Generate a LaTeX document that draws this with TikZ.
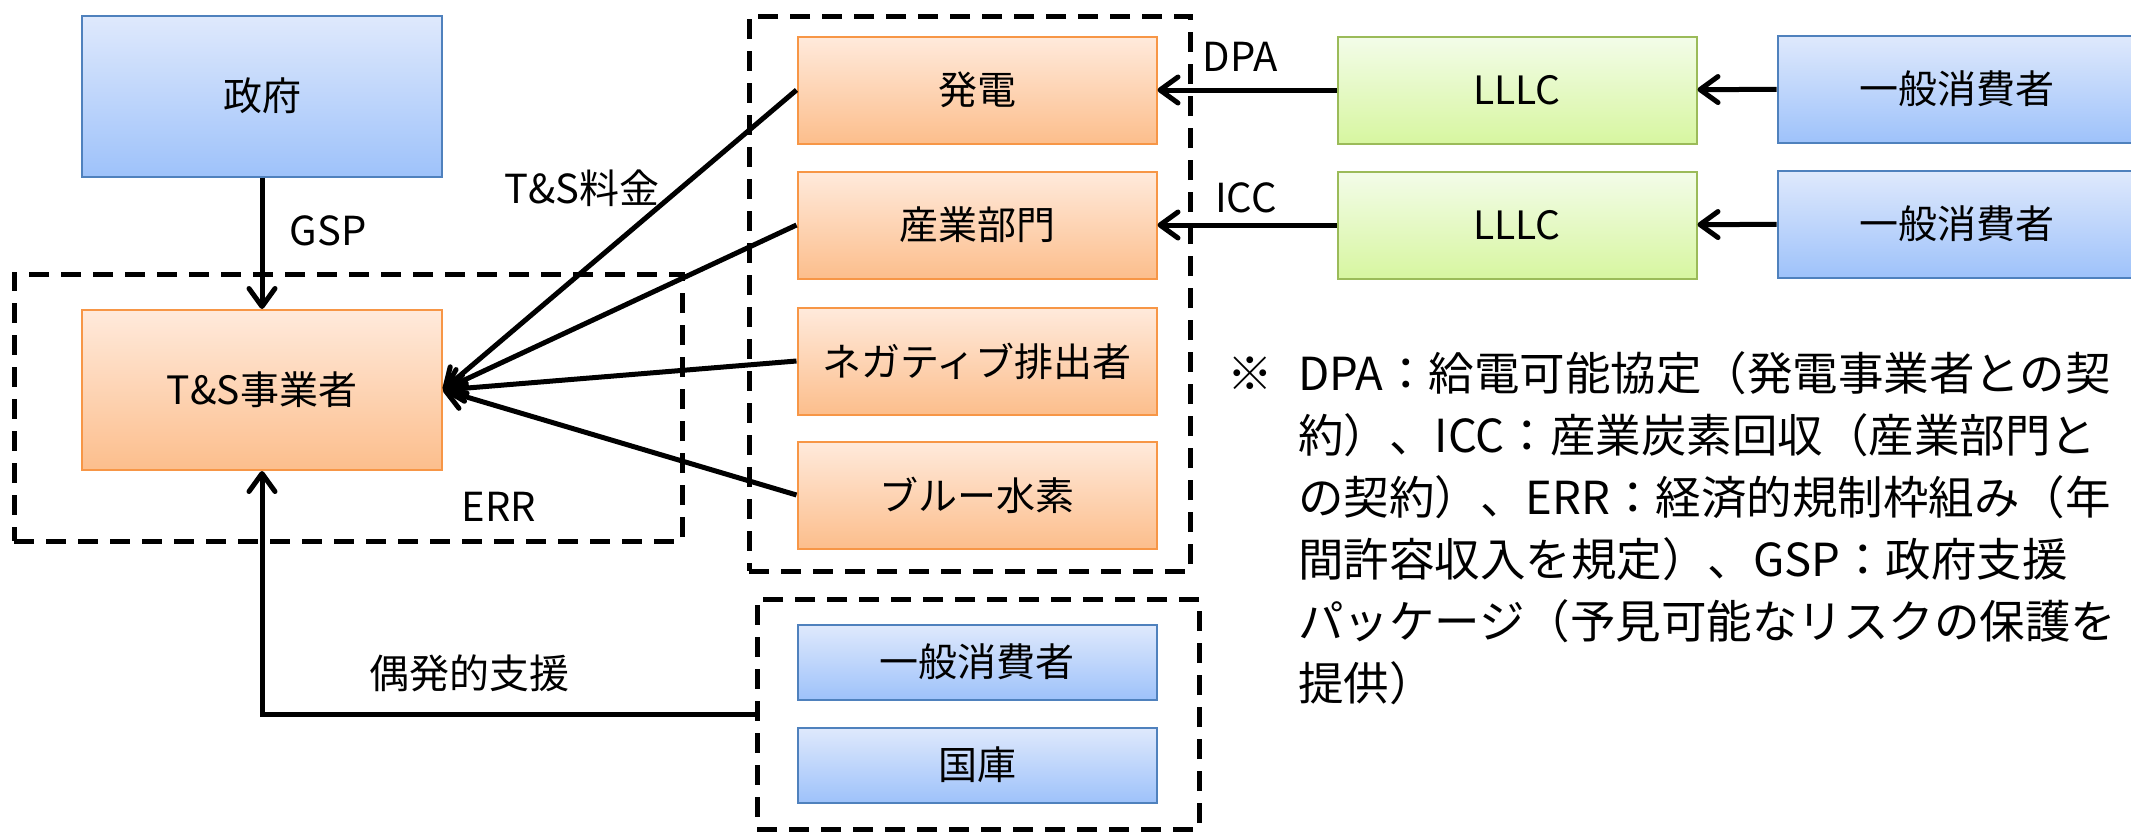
\documentclass[tikz,border=0pt]{standalone}
\usepackage{fontspec}
\setmainfont{Noto Sans CJK JP}
\usetikzlibrary{arrows.meta}
\definecolor{bluetop}{RGB}{223,233,252}
\definecolor{bluebot}{RGB}{158,194,250}
\definecolor{blueedge}{RGB}{79,129,189}
\definecolor{orangetop}{RGB}{255,234,220}
\definecolor{orangebot}{RGB}{252,190,140}
\definecolor{orangeedge}{RGB}{247,150,70}
\definecolor{greentop}{RGB}{243,252,233}
\definecolor{greenbot}{RGB}{215,246,160}
\definecolor{greenedge}{RGB}{155,187,89}
\begin{document}
\begin{tikzpicture}[x=1pt,y=-1pt,
  box/.style={line width=2pt, minimum width=359pt, minimum height=107pt, inner sep=0pt, font=\fontsize{39}{44}\selectfont},
  bluebox/.style={box, draw=blueedge, top color=bluetop, bottom color=bluebot},
  orangebox/.style={box, draw=orangeedge, top color=orangetop, bottom color=orangebot},
  greenbox/.style={box, draw=greenedge, top color=greentop, bottom color=greenbot},
  dbox/.style={draw=black, line width=5pt, dash pattern=on 20pt off 12pt, inner sep=0pt},
  conn/.style={draw=black, line width=5pt, -{Straight Barb[length=18pt,width=26pt,round]}},
  lbl/.style={inner sep=0pt, font=\fontsize{40}{44}\selectfont},
  note/.style={inner sep=0pt, font=\fontsize{45.5}{62}\selectfont, align=left}
]
\clip (0,0) rectangle (2131,833);
\useasboundingbox (0,0) rectangle (2131,833);
% dashed groups
\node[dbox, minimum width=668pt, minimum height=267pt] (err) at (348,407.5) {};
\node[dbox, minimum width=441pt, minimum height=555pt] (grp) at (969.5,293.5) {};
\node[dbox, minimum width=442pt, minimum height=230pt] (low) at (978,714) {};
% boxes
\node[bluebox, minimum width=360pt, minimum height=161pt] (gov) at (262,96) {政府};
\node[orangebox, minimum width=360pt, minimum height=160pt] (ts) at (262,390) {T\&S事業者};
\node[orangebox] (gen) at (977,90) {発電};
\node[orangebox] (ind) at (977,225) {産業部門};
\node[orangebox] (neg) at (977,361) {ネガティブ排出者};
\node[orangebox] (blu) at (977,495) {ブルー水素};
\node[greenbox] (l1) at (1517,90) {LLLC};
\node[greenbox] (l2) at (1517,225) {LLLC};
\node[bluebox] (c1) at (1957,89) {一般消費者};
\node[bluebox] (c2) at (1957,224) {一般消費者};
\node[bluebox, minimum height=75pt] (c3) at (977,662) {一般消費者};
\node[bluebox, minimum height=75pt] (tr) at (977,765) {国庫};
% connectors
\draw[conn] (gov) -- (ts);
\draw[conn] (gen.west) -- (ts.east);
\draw[conn] (ind.west) -- (ts.east);
\draw[conn] (neg.west) -- (ts.east);
\draw[conn] (blu.west) -- (ts.east);
\draw[conn] (l1) -- (gen);
\draw[conn] (l2) -- (ind);
\draw[conn] (c1) -- (l1);
\draw[conn] (c2) -- (l2);
\draw[conn] (low.west) -| (ts.south);
% labels
\node[lbl] (gsp) at (328,231) {GSP};
\node[lbl] (tsfee) at (582,188) {T\&S料金};
\node[lbl] (errl) at (499,507) {ERR};
\node[lbl] (dpa) at (1240,57) {DPA};
\node[lbl] (icc) at (1246,198) {ICC};
\node[lbl] (cont) at (469,673) {偶発的支援};
% note
\node[inner sep=0pt, font=\fontsize{45.5}{62}\selectfont] (mark) at (1250,374) {※};
\node[note, anchor=north west] (notetext) at (1298,351) {DPA：給電可能協定（発電事業者との契\\約）、ICC：産業炭素回収（産業部門と\\の契約）、ERR：経済的規制枠組み（年\\間許容収入を規定）、GSP：政府支援\\パッケージ（予見可能なリスクの保護を\\提供）};
\end{tikzpicture}
\end{document}
